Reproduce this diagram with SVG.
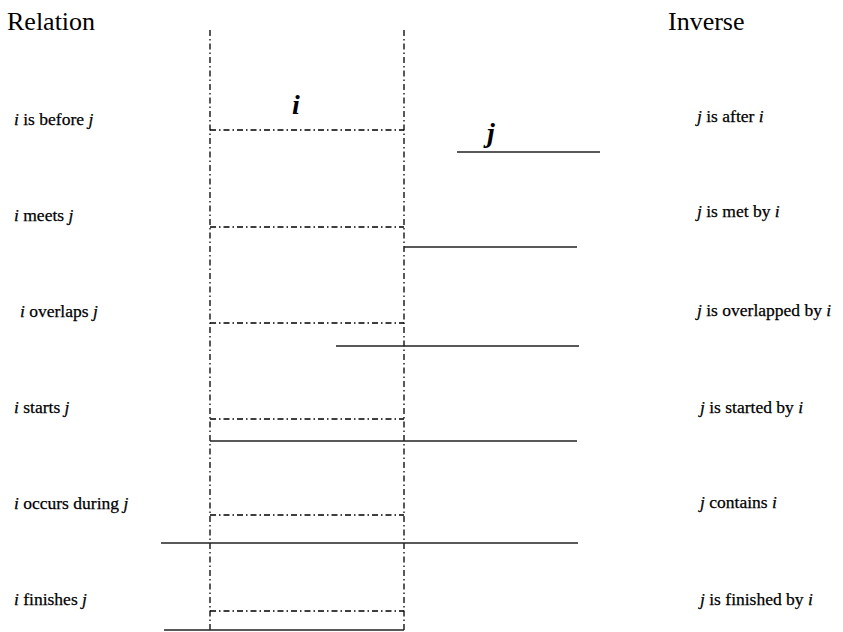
<svg xmlns="http://www.w3.org/2000/svg" width="843" height="632" viewBox="0 0 843 632">
<style>
.t{font-family:'Liberation Serif','DejaVu Serif','Times New Roman',serif;font-size:17.5px;fill:#000;stroke:#000;stroke-width:0.25}
.h{font-family:'Liberation Serif','DejaVu Serif','Times New Roman',serif;font-size:26px;fill:#000}
.v{font-style:italic}
.dd{stroke:#000;stroke-width:1.3;stroke-dasharray:6 3 1.5 3;fill:none}
.s{stroke:#222;stroke-width:1.5;fill:none}
.big{font-family:'Liberation Serif','DejaVu Serif','Times New Roman',serif;font-size:28px;font-style:italic;font-weight:bold;fill:#000}
</style>
<rect width="843" height="632" fill="#fff"/>
<text class="h" x="7" y="30">Relation</text>
<text class="h" x="668" y="30">Inverse</text>
<g id="axes">
<line class="dd" x1="210" y1="30" x2="210" y2="632"/>
<line class="dd" x1="404" y1="30" x2="404" y2="632"/>
</g>
<text class="big" x="292" y="114">i</text>
<text class="big" x="487" y="142">j</text>
<g id="before">
<text class="t" x="14" y="125"><tspan class="v">i</tspan> is before <tspan class="v">j</tspan></text>
<line class="dd" x1="210" y1="130" x2="404" y2="130"/>
<line class="s" x1="457" y1="152" x2="600" y2="152"/>
<text class="t" x="697" y="122"><tspan class="v">j</tspan> is after <tspan class="v">i</tspan></text>
</g>
<g id="meets">
<text class="t" x="14" y="221"><tspan class="v">i</tspan> meets <tspan class="v">j</tspan></text>
<line class="dd" x1="210" y1="227" x2="404" y2="227"/>
<line class="s" x1="404" y1="247" x2="577" y2="247"/>
<text class="t" x="697" y="217"><tspan class="v">j</tspan> is met by <tspan class="v">i</tspan></text>
</g>
<g id="overlaps">
<text class="t" x="20" y="317"><tspan class="v">i</tspan> overlaps <tspan class="v">j</tspan></text>
<line class="dd" x1="210" y1="323" x2="404" y2="323"/>
<line class="s" x1="336" y1="346" x2="579" y2="346"/>
<text class="t" x="697" y="316"><tspan class="v">j</tspan> is overlapped by <tspan class="v">i</tspan></text>
</g>
<g id="starts">
<text class="t" x="14" y="413"><tspan class="v">i</tspan> starts <tspan class="v">j</tspan></text>
<line class="dd" x1="210" y1="419" x2="404" y2="419"/>
<line class="s" x1="210" y1="441" x2="577" y2="441"/>
<text class="t" x="700" y="413"><tspan class="v">j</tspan> is started by <tspan class="v">i</tspan></text>
</g>
<g id="during">
<text class="t" x="14" y="509"><tspan class="v">i</tspan> occurs during <tspan class="v">j</tspan></text>
<line class="dd" x1="210" y1="515" x2="404" y2="515"/>
<line class="s" x1="161" y1="543" x2="578" y2="543"/>
<text class="t" x="700" y="508"><tspan class="v">j</tspan> contains <tspan class="v">i</tspan></text>
</g>
<g id="finishes">
<text class="t" x="14" y="605"><tspan class="v">i</tspan> finishes <tspan class="v">j</tspan></text>
<line class="dd" x1="210" y1="611" x2="404" y2="611"/>
<line class="s" x1="164" y1="630" x2="404" y2="630"/>
<text class="t" x="700" y="605"><tspan class="v">j</tspan> is finished by <tspan class="v">i</tspan></text>
</g>
</svg>
